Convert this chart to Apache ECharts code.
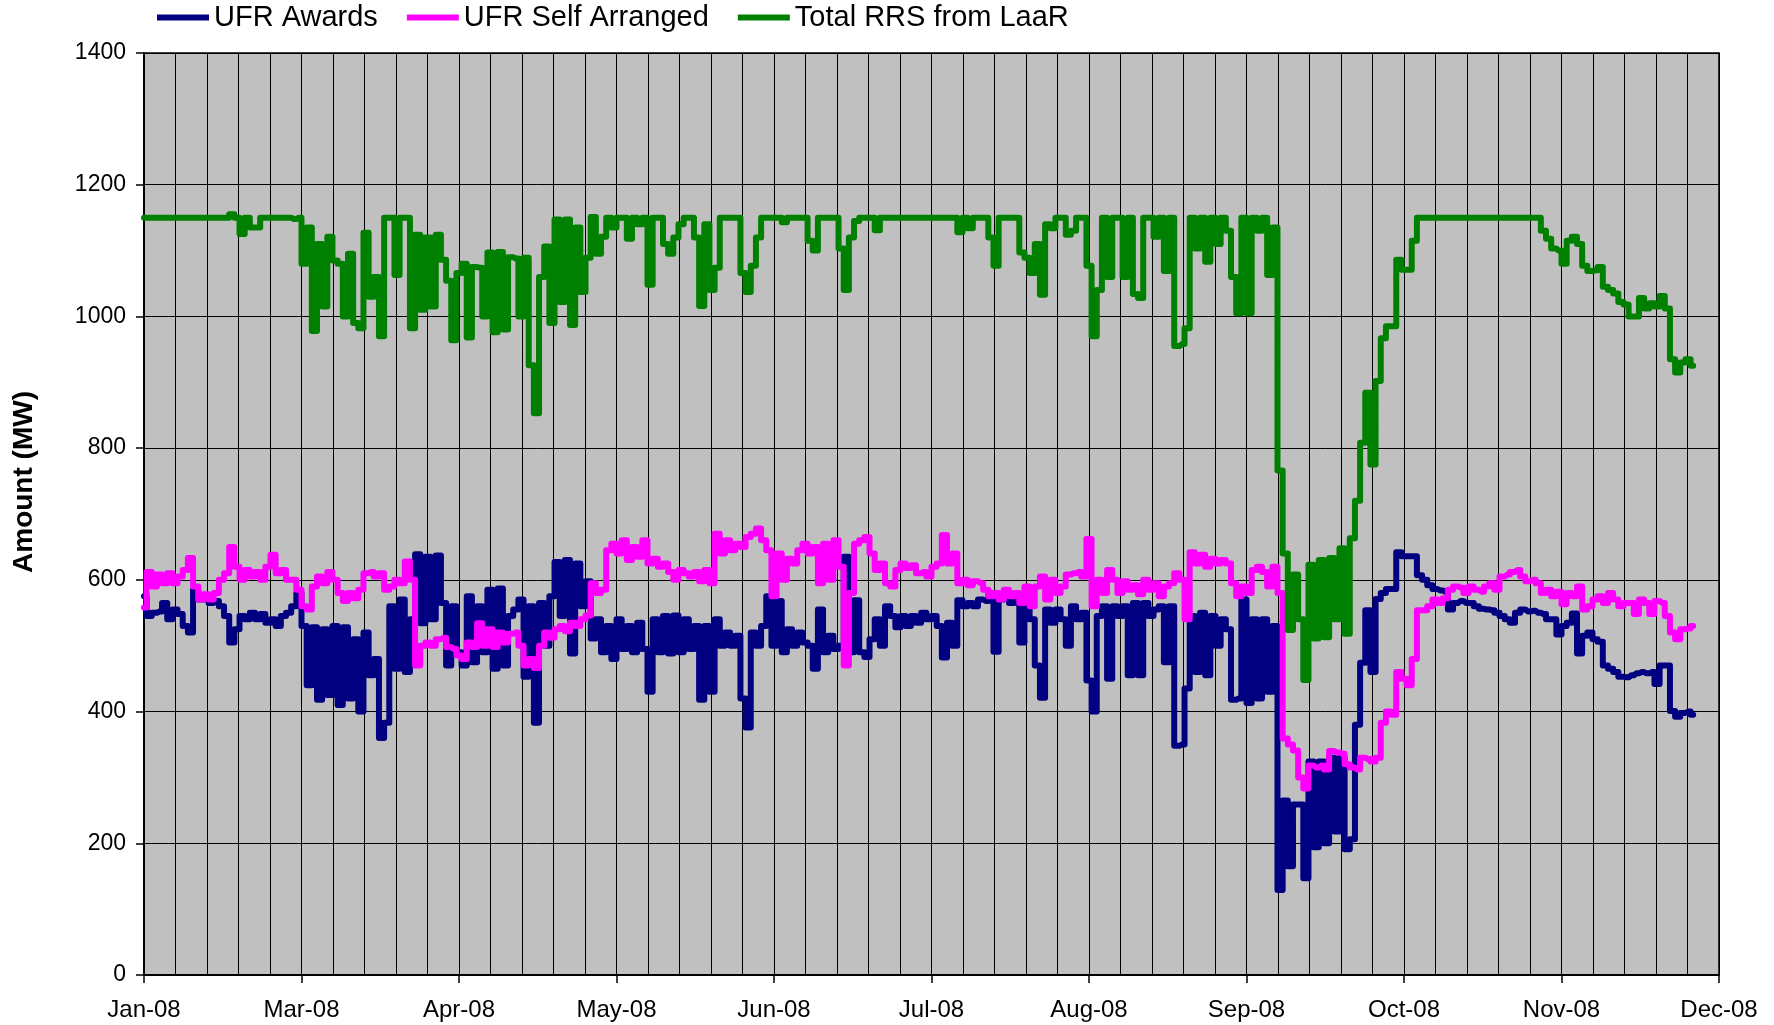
<!DOCTYPE html>
<html>
<head>
<meta charset="utf-8">
<title>UFR Awards / Self Arranged / Total RRS from LaaR</title>
<script src="https://cdn.jsdelivr.net/npm/echarts@6/dist/echarts.min.js"></script>
<style>
  html, body { margin: 0; padding: 0; background: #fff; }
  #chart { width: 1774px; height: 1025px; }
</style>
</head>
<body>
<div id="chart"></div>
<script>
// one value per day, starting at the first axis label
var monthLabels = ['Jan-08', 'Mar-08', 'Apr-08', 'May-08', 'Jun-08', 'Jul-08',
                   'Aug-08', 'Sep-08', 'Oct-08', 'Nov-08', 'Dec-08'];
var daysPerLabel = 30.5;

var ufrAwards = [
  575,545,550,552,565,540,555,548,530,520,
  585,570,575,565,568,560,545,505,525,545,
  540,550,540,548,535,540,530,545,550,560,
  580,530,440,528,418,525,425,530,410,528,
  420,510,400,520,455,480,360,383,560,465,
  570,460,540,639,534,635,540,637,565,470,
  560,490,470,575,475,560,490,585,465,587,
  470,545,555,570,453,560,383,565,500,575,
  627,545,630,488,625,560,598,511,540,490,
  530,480,540,495,530,490,535,495,430,540,
  490,545,488,546,490,540,495,530,418,530,
  430,540,500,520,500,515,420,376,520,500,
  530,575,500,568,490,525,500,520,505,500,
  465,555,490,515,495,500,635,490,569,490,
  483,510,540,500,560,545,528,545,530,545,
  535,550,540,545,530,482,535,500,569,560,
  565,560,570,568,580,491,570,575,565,570,
  505,560,540,470,421,555,535,555,540,500,
  560,540,550,447,400,545,560,450,560,545,
  560,455,565,455,565,545,555,560,475,560,
  348,350,435,545,460,550,455,545,500,540,
  525,418,420,570,413,540,420,540,430,530,
  129,265,165,259,259,147,324,194,324,200,
  330,218,330,191,206,380,474,554,460,571,
  580,586,586,642,636,636,636,607,600,592,
  586,584,582,555,565,568,565,565,560,556,
  555,554,550,545,540,535,550,555,552,553,
  550,548,540,540,517,530,535,549,488,515,
  520,510,506,470,465,460,453,452,455,458,
  460,458,460,442,470,470,401,392,398,400,
  395
];

var ufrSelfArranged = [
  558,612,590,608,595,610,595,605,615,633,
  590,570,578,570,580,600,610,650,620,600,
  615,605,612,600,620,638,610,615,600,600,
  585,560,555,590,605,595,612,600,580,568,
  580,572,585,610,612,605,610,585,590,600,
  595,628,600,470,500,505,500,510,512,498,
  495,485,480,505,498,534,500,525,498,520,
  505,518,520,500,470,480,466,500,520,512,
  525,530,522,535,530,540,546,595,580,585,
  645,655,640,660,630,650,635,660,625,632,
  620,625,612,600,615,610,605,612,598,615,
  595,670,640,660,645,655,650,665,670,678,
  660,645,575,640,600,632,625,645,655,640,
  650,595,655,600,660,620,470,580,655,660,
  665,640,615,625,595,590,615,625,618,622,
  610,612,605,620,625,668,625,640,595,600,
  592,598,595,585,575,580,570,585,575,580,
  565,590,560,590,605,570,600,580,590,608,
  610,612,605,662,560,600,580,615,600,580,
  598,585,592,578,600,585,595,575,590,595,
  610,600,540,642,625,638,620,632,625,630,
  625,595,575,590,580,615,620,612,590,620,
  580,359,350,341,300,283,318,315,318,312,
  340,338,336,320,315,312,330,328,324,330,
  383,400,395,460,450,440,480,554,554,560,
  570,565,572,585,590,588,580,590,585,582,
  590,595,585,605,608,612,615,605,598,600,
  595,580,585,575,582,563,580,575,590,555,
  560,570,575,565,580,570,560,565,565,548,
  570,565,548,568,565,545,520,510,525,526,
  530
];

var totalRrsLaaR = [
  1150,1150,1150,1150,1150,1150,1150,1150,1150,1150,
  1150,1150,1150,1150,1150,1150,1150,1155,1150,1125,
  1150,1135,1135,1150,1150,1150,1150,1150,1150,1148,
  1150,1080,1135,978,1110,1015,1121,1085,1080,1000,
  1095,990,982,1127,1030,1060,970,1150,1150,1063,
  1150,1150,982,1124,1010,1120,1015,1124,1086,1054,
  964,1066,1080,968,1075,1074,1000,1097,976,1098,
  980,1090,1088,1000,1089,926,853,1060,1106,990,
  1147,1022,1147,987,1135,1037,1089,1151,1095,1121,
  1150,1135,1150,1150,1118,1150,1140,1150,1048,1150,
  1150,1110,1095,1120,1140,1150,1150,1120,1016,1140,
  1040,1074,1150,1150,1150,1150,1066,1037,1077,1120,
  1150,1150,1150,1150,1143,1150,1150,1150,1150,1115,
  1100,1150,1150,1150,1150,1103,1040,1120,1145,1150,
  1150,1150,1131,1150,1150,1150,1150,1150,1150,1150,
  1150,1150,1150,1150,1150,1150,1150,1150,1128,1150,
  1134,1150,1150,1150,1120,1077,1150,1150,1150,1150,
  1097,1089,1066,1110,1033,1140,1134,1150,1150,1124,
  1130,1150,1150,1077,970,1040,1150,1060,1150,1150,
  1060,1150,1034,1028,1150,1150,1121,1150,1069,1150,
  955,958,982,1150,1103,1150,1083,1150,1110,1150,
  1130,1060,1005,1150,1005,1150,1130,1150,1063,1135,
  766,640,524,608,540,448,623,511,630,513,
  633,540,648,518,663,720,808,884,775,902,
  967,985,985,1086,1071,1071,1115,1150,1150,1150,
  1150,1150,1150,1150,1150,1150,1150,1150,1150,1150,
  1150,1150,1150,1150,1150,1150,1150,1150,1150,1150,
  1150,1130,1118,1103,1100,1080,1115,1121,1110,1077,
  1069,1070,1075,1045,1040,1035,1022,1018,1000,1000,
  1028,1012,1020,1015,1031,1012,935,915,930,935,
  925
];

function byDay(values) {
  return values.map(function (v, i) { return [i, v]; });
}

var font = "'Liberation Sans', Arial, sans-serif";
var myChart = echarts.init(document.getElementById('chart'));

function lineSeries(name, color, values) {
  return {
    name: name,
    type: 'line',
    step: 'middle',
    showSymbol: false,
    symbol: 'none',
    color: color,
    lineStyle: { width: 6, color: color, join: 'round', cap: 'round' },
    data: byDay(values)
  };
}

var option = {
  animation: false,
  backgroundColor: '#ffffff',
  textStyle: { fontFamily: font, color: '#000' },
  legend: {
    left: 152,
    top: -2,
    icon: 'rect',
    itemWidth: 52,
    itemHeight: 6,
    itemGap: 29,
    textStyle: { fontFamily: font, fontSize: 29, color: '#000' },
    data: ['UFR Awards', 'UFR Self Arranged', 'Total RRS from LaaR']
  },
  grid: {
    left: 144,
    right: 55,
    top: 53,
    bottom: 50,
    show: true,
    backgroundColor: '#c0c0c0',
    borderColor: '#000',
    borderWidth: 1.5
  },
  xAxis: {
    type: 'value',
    min: 0,
    max: daysPerLabel * 10,
    interval: daysPerLabel,
    axisLine: { show: true, lineStyle: { color: '#000', width: 2 } },
    axisTick: { show: true, length: 8, lineStyle: { color: '#000', width: 1.5 } },
    axisLabel: {
      margin: 23,
      fontSize: 24,
      color: '#000',
      fontFamily: font,
      showMinLabel: true,
      showMaxLabel: true,
      formatter: function (v) { return monthLabels[Math.round(v / daysPerLabel)]; }
    },
    splitLine: { show: true, lineStyle: { color: '#000', width: 1 } },
    minorTick: { show: false, splitNumber: 5 },
    minorSplitLine: { show: true, lineStyle: { color: '#000', width: 1 } }
  },
  yAxis: {
    type: 'value',
    min: 0,
    max: 1400,
    interval: 200,
    name: 'Amount (MW)',
    nameLocation: 'middle',
    nameRotate: 90,
    nameGap: 106,
    nameTextStyle: {
      fontFamily: font, fontSize: 28, fontWeight: 'bold', color: '#000',
      padding: [0, 0, 0, 64]
    },
    axisLine: { show: true, lineStyle: { color: '#000', width: 2 } },
    axisTick: { show: true, length: 8, lineStyle: { color: '#000', width: 1.5 } },
    axisLabel: {
      margin: 18, fontSize: 23, color: '#000', fontFamily: font,
      formatter: function (v) { return String(v); }
    },
    splitLine: { show: true, lineStyle: { color: '#000', width: 1 } }
  },
  series: [
    lineSeries('UFR Awards', '#000080', ufrAwards),
    lineSeries('UFR Self Arranged', '#ff00ff', ufrSelfArranged),
    lineSeries('Total RRS from LaaR', '#008000', totalRrsLaaR)
  ]
};

myChart.setOption(option);
</script>
</body>
</html>
